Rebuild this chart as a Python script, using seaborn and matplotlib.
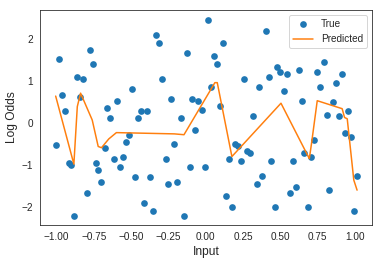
import matplotlib
matplotlib.use("Agg")
import matplotlib.pyplot as plt
import seaborn as sns

# points
x_true = [-0.985, -0.78, -0.76, -0.862, -0.822, -0.963, -0.845, -0.943, -0.662, -0.64,
          -1.007, -0.92, -0.902, -0.678, -0.74, -0.72, -0.70, -0.80, -0.885,
          -0.332, -0.314, -0.292, -0.497, -0.232, -0.598, -0.435, -0.392, -0.455,
          -0.517, -0.535, -0.217, -0.618, -0.557, -0.577, -0.27, -0.475, -0.374,
          -0.252, -0.414, -0.352,
          0.013, 0.116, -0.13, 0.053, 0.074, 0.033, -0.09, -0.05, -0.027, 0.094,
          -0.17, -0.07, 0.194, 0.214, 0.154, 0.238, -0.107, -0.007, -0.192, 0.136,
          0.176, -0.15,
          0.403, 0.256, 0.421, 0.479, 0.499, 0.543, 0.624, 0.358, 0.523, 0.644,
          0.316, 0.276, 0.298, 0.439, 0.584, 0.657, 0.378, 0.341, 0.604, 0.564,
          0.461, 0.686,
          0.789, 0.746, 0.909, 0.869, 0.766, 0.849, 0.809, 0.889, 0.949, 0.929,
          0.971, 0.726, 0.706, 1.013, 0.826, 0.991]
y_true = [1.52, 1.74, 1.40, 1.10, 1.05, 0.66, 0.62, 0.28, 0.36, 0.11,
          -0.53, -0.95, -1.01, -0.59, -0.95, -1.11, -1.40, -1.67, -2.21,
          2.10, 1.90, 1.05, 0.80, 0.58, 0.53, 0.29, 0.29, 0.12,
          -0.29, -0.46, -0.50, -0.85, -0.81, -1.06, -0.85, -1.28, -1.28,
          -1.46, -1.91, -2.10,
          2.45, 1.91, 1.67, 1.60, 1.40, 0.85, 0.57, 0.53, 0.32, 0.40,
          0.12, -0.17, -0.51, -0.54, -0.86, -0.90, -1.05, -1.05, -1.40, -1.75,
          -2.01, -2.21,
          2.20, 1.05, 1.10, 1.33, 1.21, 1.16, 1.27, 0.85, 0.76, 0.53,
          0.16, -0.67, -0.71, -0.90, -0.90, -0.71, -1.27, -1.46, -1.52, -1.67,
          -2.01, -2.01,
          1.45, 1.21, 1.16, 0.95, 0.85, 0.50, 0.20, 0.16, 0.28, -0.25,
          -0.33, -0.40, -0.81, -1.27, -1.60, -2.10]

# predicted curve
x_pred = [-1.007, -0.885, -0.862, -0.84, -0.762, -0.722, -0.70, -0.651, -0.60,
          -0.212, -0.147, 0.06, 0.076, 0.174, 0.503, 0.693, 0.708, 0.746,
          0.913, 0.929, 0.947, 0.991, 1.013]
y_pred = [0.64, -0.98, 0.39, 0.71, 0.07, -0.56, -0.59, -0.38, -0.23,
          -0.26, -0.28, 0.96, 0.96, -0.80, 0.47, -0.85, -0.48, 0.53,
          0.34, 0.13, 0.10, -1.36, -1.60]

sns.set_style("white")
plt.rcParams["font.family"] = ["Liberation Sans", "DejaVu Sans"]

fig = plt.figure(figsize=(383 / 72, 264 / 72), dpi=72)
ax = fig.add_axes([40 / 383, 1 - 225 / 264, 332 / 383, 215 / 264])

sns.scatterplot(x=x_true, y=y_true, ax=ax, color="#1f77b4", s=45,
                linewidth=0, label="True")
sns.lineplot(x=x_pred, y=y_pred, ax=ax, color="#ff7f0e", linewidth=1.5,
             sort=False, estimator=None, label="Predicted")

ax.set_xlim(-1.112, 1.113)
ax.set_ylim(-2.43, 2.69)
ax.set_xticks([-1.0, -0.75, -0.5, -0.25, 0.0, 0.25, 0.5, 0.75, 1.0])
ax.set_yticks([-2, -1, 0, 1, 2])
ax.tick_params(labelsize=10)
ax.set_xlabel("Input", fontsize=12)
ax.set_ylabel("Log Odds", fontsize=12)
ax.legend(loc="upper right", fontsize=10)

fig.savefig("out.png", dpi=72)
